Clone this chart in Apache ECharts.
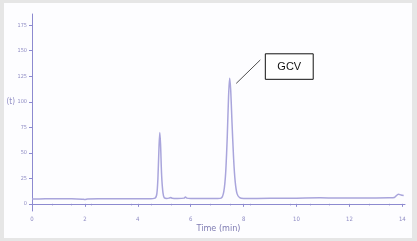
<!DOCTYPE html>
<html><head><meta charset="utf-8">
<script src="https://cdn.jsdelivr.net/npm/echarts@6/dist/echarts.min.js"></script>
<style>
html,body{margin:0;padding:0;background:#e6e6e6;}
#wrap{position:absolute;left:4px;top:3px;width:408px;height:235px;background:#fdfdff;}
#c{position:absolute;left:0;top:0;width:417px;height:241px;}
</style></head>
<body><div id="wrap"></div><div id="c"></div>
<script>
const times = [0,0.5,1,1.5,1.9,2.0,2.1,2.5,3,3.5,4,4.4,4.65,4.72,4.76,4.80,4.83,4.86,4.90,4.95,5.0,5.1,5.2,5.25,5.3,5.5,5.75,5.8,5.85,6.0,6.5,7.0,7.15,7.25,7.32,7.38,7.43,7.47,7.51,7.56,7.62,7.68,7.75,7.85,8.0,9,10,10.9,11.5,12,13,13.5,13.7,13.85,13.95,14.05];
const signal = [4.8,4.9,4.9,5.0,4.6,4.2,4.7,5.0,5.0,5.0,5.0,5.0,5.6,10,25,55,70,58,28,11,6,5.2,5.8,6.2,5.4,5.2,5.6,6.8,5.6,5.2,5.2,5.3,5.6,12,30,65,105,123,112,80,45,22,10,6,5.3,5.4,5.6,5.9,5.7,5.8,5.8,5.9,6.3,9.5,8.6,8.2];
const yTicks = [0,25,50,75,100,125,150,175];
const xTicks = [0,2,4,6,8,10,12,14];
const peakLabel = 'GCV';
const leader = [[7.72,118],[8.63,141]];
const labelBox = [[8.82,122],[10.63,147]];

const axisColor = '#8d8ad0';
const narrow = 'Liberation Sans Narrow, DejaVu Sans Condensed, sans-serif';
const chart = echarts.init(document.getElementById('c'));
chart.setOption({
  animation:false,
  grid:{left:32,right:12,top:14,bottom:30},
  xAxis:{type:'value',min:0,max:14.1,
    axisLine:{lineStyle:{color:axisColor,width:1}},
    axisTick:{customValues:xTicks,length:3,inside:false,lineStyle:{color:axisColor}},
    minorTick:{show:true,splitNumber:4,length:1.5,lineStyle:{color:axisColor}},
    axisLabel:{customValues:xTicks,fontSize:6,color:'#8f8cc4',margin:5,fontFamily:narrow},
    splitLine:{show:false},
    name:'Time (min)',nameLocation:'middle',nameGap:13,nameMoveOverlap:false,
    nameTextStyle:{fontSize:9,color:'#7e7bb2',fontFamily:narrow}},
  yAxis:{type:'value',min:-7,max:186,
    axisLine:{show:true,lineStyle:{color:axisColor,width:1}},
    axisTick:{show:true,customValues:yTicks,length:3,lineStyle:{color:axisColor}},
    axisLabel:{customValues:yTicks,fontSize:5.5,color:'#8f8cc4',margin:5,fontFamily:narrow},
    splitLine:{show:false},
    name:'(t)\n\n',nameLocation:'middle',nameGap:17,nameRotate:0,nameMoveOverlap:false,
    nameTextStyle:{fontSize:8,lineHeight:11,color:'#8f8cc4',fontFamily:narrow}},
  series:[{
    type:'line',data:times.map((t,i)=>[t,signal[i]]),
    smooth:0.25,showSymbol:false,
    lineStyle:{color:'#a9a5dc',width:1.5},
    markLine:{silent:true,symbol:['none','none'],
      lineStyle:{color:'#222',width:0.8,type:'solid'},label:{show:false},
      data:[[{coord:leader[0]},{coord:leader[1]}]]},
    markArea:{silent:true,
      itemStyle:{color:'#ffffff',borderColor:'#111',borderWidth:1},
      label:{show:true,position:'inside',color:'#111',fontSize:11,fontFamily:'Liberation Sans, sans-serif'},
      data:[[{coord:labelBox[0],name:peakLabel},{coord:labelBox[1]}]]}
  }]
});
</script></body></html>
